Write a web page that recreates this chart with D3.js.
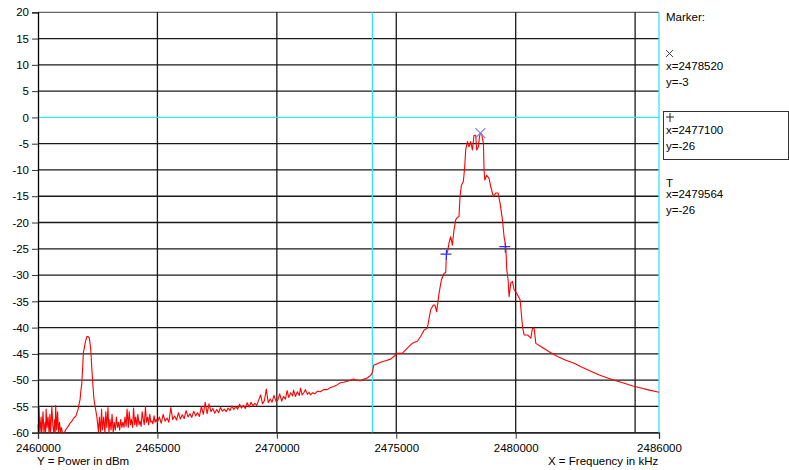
<!DOCTYPE html>
<html>
<head>
<meta charset="utf-8">
<script src="https://cdn.jsdelivr.net/npm/d3@7"></script>
<style>
  body { margin: 0; background: #fff; }
  svg text { font-family: "Liberation Sans", Arial, sans-serif; font-size: 11.5px; fill: #000; }
</style>
</head>
<body>
<div id="wrapper"></div>
<script>
// axis ticks
const yTicks = [20, 15, 10, 5, 0, -5, -10, -15, -20, -25, -30, -35, -40, -45, -50, -55, -60]
const xTickLabels = [2460000, 2465000, 2470000, 2475000, 2480000, 2486000]
const xGrid = [2465000, 2470000, 2475000, 2480000, 2485000]
const cyanFreq = 2474000
const cyanLevel = 0

// marker readouts
const markerSymbols = ["x", "+", "T"]
const markerFreq = [2478520, 2477100, 2479564]
const markerValue = [-3, -26, -26]
const markerLevel = [-3, -26, -24.6]

// spectrum trace, [kHz, dBm]
const spectrum = [
  [2460000,-58.5],[2460020,-60.0],[2460040,-55.0],[2460080,-60.0],[2460130,-57.0],[2460150,-60.0],
  [2460170,-59.5],[2460210,-56.0],[2460250,-60.0],[2460300,-58.0],[2460320,-60.0],[2460340,-55.5],
  [2460380,-59.0],[2460420,-57.0],[2460460,-60.0],[2460500,-56.5],[2460520,-60.0],[2460540,-59.0],
  [2460580,-55.0],[2460620,-58.5],[2460660,-60.0],[2460700,-57.5],[2460720,-60.0],[2460740,-54.8],
  [2460780,-59.5],[2460820,-56.0],[2460860,-60.0],[2460900,-58.0],[2460940,-60.0],
  [2460980,-59.0],[2461020,-60.0],[2461100,-60.0],[2461180,-59.3],[2461260,-58.8],[2461340,-58.2],
  [2461420,-57.8],[2461500,-57.2],[2461590,-56.8],[2461680,-55.5],[2461730,-54.3],[2461761,-53.7],
  [2461800,-51.8],[2461832,-50.7],[2461870,-47.5],[2461900,-44.8],[2461971,-43.0],[2462042,-41.7],
  [2462097,-41.7],[2462151,-42.0],[2462210,-44.2],[2462250,-47.5],[2462294,-50.7],[2462340,-53.5],
  [2462390,-55.0],[2462462,-56.9],[2462530,-59.8],
  [2462570,-57.0],[2462620,-60.0],[2462660,-55.5],[2462700,-59.5],[2462750,-57.0],[2462800,-60.0],
  [2462840,-56.0],[2462880,-59.0],[2462930,-55.2],[2462970,-60.0],[2463010,-57.5],[2463060,-59.5],
  [2463100,-56.5],[2463150,-60.0],[2463190,-58.0],[2463240,-59.5],[2463280,-57.0],[2463330,-59.0],
  [2463370,-58.0],[2463420,-59.5],[2463460,-57.5],[2463510,-59.0],[2463550,-58.0],[2463600,-59.0],
  [2463640,-57.0],[2463690,-58.8],[2463730,-55.5],[2463780,-59.0],[2463820,-56.0],[2463870,-58.5],
  [2463910,-57.5],[2463960,-59.0],[2464000,-55.3],[2464050,-58.5],[2464090,-57.0],[2464140,-58.8],
  [2464180,-56.5],[2464230,-58.5],[2464270,-57.8],[2464320,-58.8],[2464360,-56.0],[2464410,-57.5],
  [2464450,-58.5],[2464500,-55.0],[2464540,-58.0],[2464590,-57.0],[2464630,-58.5],[2464680,-56.5],
  [2464720,-58.0],[2464770,-57.8],[2464810,-58.3],[2464860,-56.8],[2464900,-58.0],[2464950,-57.5],
  [2465000,-58.0],
  [2465080,-57.0],[2465160,-58.2],[2465240,-56.5],[2465320,-57.8],[2465400,-57.2],[2465480,-58.0],
  [2465560,-55.2],[2465640,-57.5],[2465720,-56.8],[2465800,-57.6],[2465880,-56.2],[2465960,-57.4],
  [2466040,-56.6],[2466120,-57.3],[2466200,-55.8],[2466280,-57.0],[2466360,-56.4],[2466440,-57.1],
  [2466520,-55.9],[2466600,-56.8],[2466680,-56.2],[2466760,-56.9],[2466840,-55.0],[2466920,-56.5],
  [2467000,-54.2],[2467080,-56.4],[2467160,-54.5],[2467240,-56.0],[2467320,-55.4],[2467400,-56.3],
  [2467480,-55.6],[2467560,-56.2],[2467640,-55.2],[2467720,-55.9],[2467800,-55.5],[2467880,-56.0],
  [2467960,-55.3],[2468040,-55.8],[2468120,-54.9],[2468200,-55.6],[2468280,-55.0],[2468360,-55.5],
  [2468440,-54.6],[2468520,-55.3],[2468600,-54.8],[2468680,-55.4],[2468760,-54.3],[2468840,-55.1],
  [2468920,-54.2],[2469000,-54.9],[2469080,-54.4],[2469160,-54.8],[2469240,-53.8],[2469320,-52.8],
  [2469400,-54.5],[2469480,-53.9],[2469560,-51.7],[2469640,-54.3],[2469720,-53.6],[2469800,-54.2],
  [2469880,-52.9],[2469960,-54.0],
  [2470040,-53.8],[2470120,-52.6],[2470200,-54.0],[2470280,-53.1],[2470360,-53.6],[2470430,-52.0],
  [2470500,-53.3],[2470580,-52.4],[2470660,-53.0],[2470700,-51.9],[2470780,-53.1],[2470860,-52.2],
  [2470940,-52.9],[2470990,-51.5],[2471060,-52.8],[2471130,-52.4],[2471200,-51.8],[2471280,-52.7],
  [2471350,-52.3],[2471410,-52.8],[2471500,-52.4],[2471600,-52.6],[2471700,-52.1],[2471830,-52.2],
  [2471950,-51.8],[2472110,-51.8],[2472250,-51.4],[2472380,-51.2],[2472520,-50.9],[2472660,-50.5],
  [2472800,-50.4],[2472950,-50.2],[2473080,-50.0],[2473210,-49.8],[2473350,-50.0],[2473500,-50.1],
  [2473650,-49.8],[2473780,-49.6],[2473900,-49.2],[2473990,-48.7],[2474060,-47.1],[2474200,-46.9],
  [2474340,-46.6],[2474550,-46.3],[2474760,-46.0],[2474900,-45.5],[2475040,-44.9],[2475250,-44.9],
  [2475460,-43.9],[2475670,-43.0],[2475880,-42.6],[2476020,-41.7],[2476160,-40.5],[2476300,-40.1],
  [2476440,-36.6],[2476550,-35.7],[2476620,-35.7],[2476690,-37.0],[2476790,-33.5],[2476890,-30.9],
  [2477000,-29.7],[2477070,-29.5],[2477100,-26.0],[2477150,-25.5],[2477207,-23.9],[2477278,-22.7],
  [2477350,-24.3],[2477417,-21.4],[2477488,-19.5],[2477560,-19.0],[2477626,-18.9],[2477668,-15.1],
  [2477727,-12.9],[2477810,-12.2],[2477865,-9.4],[2477907,-6.2],[2477978,-4.6],[2478045,-5.6],
  [2478117,-4.6],[2478188,-6.2],[2478255,-3.4],[2478326,-3.4],[2478368,-6.2],[2478440,-5.6],
  [2478480,-3.8],[2478520,-3.0],[2478578,-3.2],[2478650,-5.0],[2478675,-10.0],[2478704,-11.9],
  [2478788,-11.0],[2478884,-11.6],[2478956,-13.2],[2479069,-15.1],[2479165,-14.4],[2479262,-14.4],
  [2479346,-16.3],[2479446,-19.5],[2479513,-22.7],[2479585,-24.6],[2479627,-29.0],[2479681,-30.9],
  [2479723,-34.1],[2479795,-31.5],[2479866,-31.2],[2479933,-32.8],[2480046,-33.5],[2480185,-34.7],
  [2480285,-39.8],[2480352,-41.4],[2480495,-41.4],[2480633,-42.0],[2480704,-40.1],[2480771,-40.1],
  [2480843,-43.0],[2481052,-43.6],[2481400,-44.6],[2481752,-45.5],[2482100,-46.2],[2482448,-46.8],
  [2482800,-47.6],[2483148,-48.3],[2483500,-49.0],[2483849,-49.6],[2484200,-50.1],[2484545,-50.6],
  [2484900,-51.1],[2485245,-51.5],[2485600,-51.9],[2486000,-52.3]
]

function drawChart() {
  const width = 789
  const height = 470
  const plot = { left: 38, right: 659, top: 12.3, bottom: 432.7 }

  const xScale = d3.scaleLinear()
    .domain([2460000, 2486000])
    .range([plot.left, plot.right])

  const yScale = d3.scaleLinear()
    .domain([-60, 20])
    .range([plot.bottom, plot.top])

  const svg = d3.select("#wrapper").append("svg")
    .attr("width", width)
    .attr("height", height)

  svg.append("rect")
    .attr("width", width)
    .attr("height", height)
    .attr("fill", "#fff")

  // grid
  const grid = svg.append("g")
  grid.selectAll(".hgrid")
    .data(yTicks.filter(d => d !== cyanLevel))
    .join("line")
    .attr("class", "hgrid")
    .attr("x1", plot.left)
    .attr("x2", plot.right)
    .attr("y1", d => yScale(d))
    .attr("y2", d => yScale(d))
    .attr("stroke", d => d === 20 ? "#666" : "#1a1a1a")
    .attr("stroke-width", 1.3)

  grid.selectAll(".vgrid")
    .data(xGrid)
    .join("line")
    .attr("class", "vgrid")
    .attr("x1", d => xScale(d))
    .attr("x2", d => xScale(d))
    .attr("y1", plot.top)
    .attr("y2", plot.bottom)
    .attr("stroke", "#1a1a1a")
    .attr("stroke-width", 1.3)

  grid.append("line")
    .attr("x1", plot.left).attr("x2", plot.right)
    .attr("y1", yScale(cyanLevel)).attr("y2", yScale(cyanLevel))
    .attr("stroke", "#33e6f0").attr("stroke-width", 1.3)

  grid.append("line")
    .attr("x1", xScale(cyanFreq)).attr("x2", xScale(cyanFreq))
    .attr("y1", plot.top).attr("y2", plot.bottom)
    .attr("stroke", "#33e6f0").attr("stroke-width", 1.3)

  grid.append("line")
    .attr("x1", plot.right).attr("x2", plot.right)
    .attr("y1", plot.top).attr("y2", plot.bottom + 1)
    .attr("stroke", "#33e6f0").attr("stroke-width", 1.3)

  // trace
  const line = d3.line()
    .x(d => xScale(d[0]))
    .y(d => yScale(d[1]))

  svg.append("path")
    .datum(spectrum)
    .attr("d", line)
    .attr("fill", "none")
    .attr("stroke", "#ff0000")
    .attr("stroke-width", 1.1)
    .attr("stroke-linejoin", "round")

  // markers on the trace
  const mk = svg.append("g")
  markerSymbols.forEach((s, i) => {
    const cx = xScale(markerFreq[i])
    const cy = yScale(markerLevel[i])
    if (s === "x") {
      mk.append("path")
        .attr("d", `M${cx - 5},${cy - 5}L${cx + 5},${cy + 5}M${cx - 5},${cy + 5}L${cx + 5},${cy - 5}`)
        .attr("stroke", "#7b7bff").attr("stroke-width", 1.2).attr("fill", "none")
    } else {
      mk.append("path")
        .attr("d", `M${cx - 6},${cy}L${cx + 5},${cy}M${cx},${cy - 4}L${cx},${cy + 6}`)
        .attr("stroke", "#2f2fff").attr("stroke-width", 1.2).attr("fill", "none")
    }
  })

  // axes
  const yAxis = d3.axisLeft(yScale)
    .tickValues(yTicks)
    .tickSize(6)
    .tickPadding(3)
    .tickFormat(d => d)

  const yAxisG = svg.append("g")
    .attr("transform", `translate(${plot.left},0)`)
    .call(yAxis)
  yAxisG.select(".domain").attr("stroke", "#000").attr("stroke-width", 1.3)
  yAxisG.selectAll(".tick line").attr("stroke", "#333")
  yAxisG.selectAll("text")
    .attr("font-family", "Liberation Sans, Arial, sans-serif")
    .attr("font-size", 11.5)
    .attr("fill", "#000")

  const xAxis = d3.axisBottom(xScale)
    .tickValues(xTickLabels)
    .tickSize(6)
    .tickPadding(5)
    .tickFormat(d => d)

  const xAxisG = svg.append("g")
    .attr("transform", `translate(0,${plot.bottom})`)
    .call(xAxis)
  xAxisG.select(".domain").attr("stroke", "#333").attr("stroke-width", 1.3)
  xAxisG.selectAll(".tick line").attr("stroke", "#333")
  xAxisG.selectAll("text")
    .attr("font-family", "Liberation Sans, Arial, sans-serif")
    .attr("font-size", 11.5)
    .attr("fill", "#000")

  svg.append("text")
    .attr("x", 37).attr("y", 465)
    .text("Y = Power in dBm")

  svg.append("text")
    .attr("x", 548).attr("y", 465)
    .text("X = Frequency in kHz")

  // marker panel
  const panel = svg.append("g")
  panel.append("text").attr("x", 666).attr("y", 21).text("Marker:")

  const rowTop = [47, 111, 175]
  rowTop.forEach((top, i) => {
    if (i === 1) {
      panel.append("rect")
        .attr("x", 663.5).attr("y", top + 0.5)
        .attr("width", 125).attr("height", 48)
        .attr("fill", "none").attr("stroke", "#333")
    }
    const gx = 666
    const gy = top + (i === 1 ? 2 : 3)
    if (markerSymbols[i] === "x") {
      panel.append("path")
        .attr("d", `M${gx},${gy}L${gx + 7},${gy + 7}M${gx},${gy + 7}L${gx + 7},${gy}`)
        .attr("stroke", "#444").attr("fill", "none")
    } else if (markerSymbols[i] === "+") {
      panel.append("path")
        .attr("d", `M${gx},${gy + 4}L${gx + 8},${gy + 4}M${gx + 4},${gy}L${gx + 4},${gy + 9}`)
        .attr("stroke", "#222").attr("fill", "none")
    } else {
      panel.append("text").attr("x", gx).attr("y", gy + 9).text("T")
    }
    panel.append("text").attr("x", 666).attr("y", top + 23)
      .text(`x=${markerFreq[i]}`)
    panel.append("text").attr("x", 666).attr("y", top + 39)
      .text(`y=${markerValue[i]}`)
  })
}
drawChart()
</script>
</body>
</html>
